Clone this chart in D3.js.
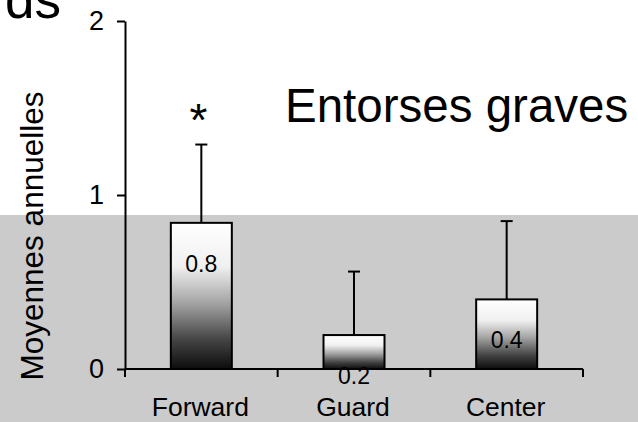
<!DOCTYPE html>
<html><head><meta charset="utf-8">
<script src="https://cdn.jsdelivr.net/npm/d3@7"></script>
<style>html,body{margin:0;padding:0;background:#fff;overflow:hidden}svg{display:block;font-family:"Liberation Sans",Arial,sans-serif}</style>
</head><body>
<svg id="c" width="638" height="422"></svg>
<script>
const categories = ["Forward", "Guard", "Center"];
const means = [0.84, 0.195, 0.40];
const errors = [0.45, 0.365, 0.45];
const valueLabels = ["0.8", "0.2", "0.4"];
const yTicks = [0, 1, 2];
const significance = ["*", "", ""];
const title = "Entorses graves";
const yLabel = "Moyennes annuelles";

const svg = d3.select("#c");
const W = 638, H = 422;

// background: white top, grey photo-like lower band
svg.append("rect").attr("x",0).attr("y",0).attr("width",W).attr("height",H).attr("fill","#ffffff");
svg.append("rect").attr("x",0).attr("y",215).attr("width",W).attr("height",H-215).attr("fill","#cbcbcb");

// gradient
const defs = svg.append("defs");
const g = defs.append("linearGradient").attr("id","barGrad").attr("x1",0).attr("y1",0).attr("x2",0).attr("y2",1);
[[0,"#ffffff"],[0.3,"#f0f0f0"],[0.55,"#a3a3a3"],[0.8,"#444444"],[1,"#0c0c0c"]].forEach(([o,c])=>g.append("stop").attr("offset",o).attr("stop-color",c));

// cut-off slide text
svg.append("text").attr("x",5).attr("y",18).attr("font-size",53).attr("fill","#000").text("ds");

const x = d3.scaleBand().domain(categories).range([125,583]).paddingInner(0).paddingOuter(0);
const y = d3.scaleLinear().domain([0,2]).range([369,21]);
const barW = 61;

// axes
const yAxis = svg.append("g").attr("transform","translate(125,0)")
  .call(d3.axisLeft(y).tickValues(yTicks).tickFormat(d3.format("d")).tickSize(8).tickPadding(13).tickSizeOuter(0));
yAxis.select(".domain").attr("stroke","#000").attr("stroke-width",2);
yAxis.selectAll(".tick line").attr("stroke","#000").attr("stroke-width",2);
yAxis.selectAll(".tick text").attr("font-size",27).attr("font-family","Liberation Sans, Arial, sans-serif").attr("fill","#000");

const xAxis = svg.append("g").attr("transform","translate(0,369)");
xAxis.append("line").attr("x1",x.range()[0]).attr("x2",x.range()[1]).attr("y1",0).attr("y2",0).attr("stroke","#000").attr("stroke-width",2);
const bounds = categories.map(c=>x(c)).concat([x.range()[1]]);
xAxis.selectAll(".xt").data(bounds).join("line").attr("x1",d=>d).attr("x2",d=>d).attr("y1",0).attr("y2",8).attr("stroke","#000").attr("stroke-width",2);
xAxis.selectAll(".xl").data(categories).join("text")
  .attr("x",d=>x(d)+x.bandwidth()/2-1).attr("y",47).attr("text-anchor","middle").attr("font-size",26.5).attr("fill","#000").text(d=>d);

// error bars
const data = categories.map((c,i)=>({c,m:means[i],e:errors[i],lab:valueLabels[i],sig:significance[i]}));
const cx = d=>x(d.c)+x.bandwidth()/2;
svg.selectAll(".err").data(data).join("line").attr("x1",cx).attr("x2",cx).attr("y1",d=>y(d.m)).attr("y2",d=>y(d.m+d.e)).attr("stroke","#000").attr("stroke-width",2);
svg.selectAll(".cap").data(data).join("line").attr("x1",d=>cx(d)-6).attr("x2",d=>cx(d)+6).attr("y1",d=>y(d.m+d.e)).attr("y2",d=>y(d.m+d.e)).attr("stroke","#000").attr("stroke-width",2);

// bars
svg.selectAll(".bar").data(data).join("rect")
  .attr("x",d=>cx(d)-barW/2).attr("width",barW)
  .attr("y",d=>y(d.m)).attr("height",d=>y(0)-y(d.m))
  .attr("fill","url(#barGrad)").attr("stroke","#000").attr("stroke-width",2);

// value labels
svg.selectAll(".vl").data(data).join("text")
  .attr("x",d=>cx(d)).attr("y",d=>y(d.m)+49).attr("text-anchor","middle").attr("font-size",23).attr("fill","#000").text(d=>d.lab);

// significance
svg.selectAll(".sig").data(data.filter(d=>d.sig)).join("text")
  .attr("x",d=>cx(d)-3).attr("y",136).attr("text-anchor","middle").attr("font-size",46).attr("fill","#000").text(d=>d.sig);

// title
svg.append("text").attr("x",285).attr("y",122).attr("font-size",47.5).attr("fill","#000").text(title);

// y label
svg.append("text").attr("transform","translate(43,236) rotate(-90)").attr("text-anchor","middle").attr("font-size",31.5).attr("fill","#000").text(yLabel);
</script>
</body></html>
